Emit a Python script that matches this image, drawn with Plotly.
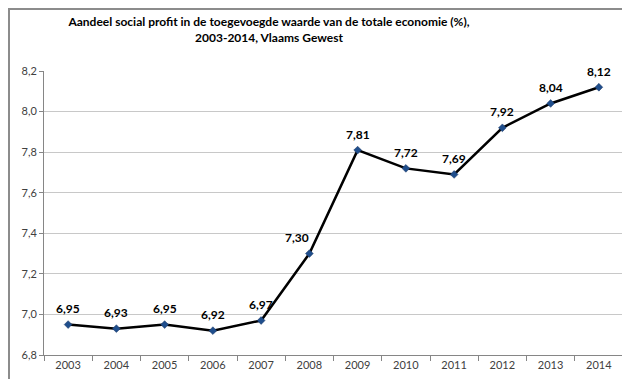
import plotly.graph_objects as go

years = ["2003", "2004", "2005", "2006", "2007", "2008", "2009", "2010", "2011", "2012", "2013", "2014"]
values = [6.95, 6.93, 6.95, 6.92, 6.97, 7.30, 7.81, 7.72, 7.69, 7.92, 8.04, 8.12]
labels = [f"{v:.2f}".replace(".", ",") for v in values]
title_text = "Aandeel social profit in de toegevoegde waarde van de totale economie (%),<br>2003-2014, Vlaams Gewest"

fig = go.Figure()
fig.add_trace(go.Scatter(
    x=years, y=values, mode="lines+markers",
    line=dict(color="#000000", width=2.5),
    marker=dict(symbol="diamond", size=6, color="#1F4E8C", line=dict(color="#1F3864", width=0.5)),
    cliponaxis=False, showlegend=False,
))

# category axis: annotations positioned by category index
annotations = []
for i, (yv, t) in enumerate(zip(values, labels)):
    annotations.append(dict(x=i, y=yv, text=t, xref="x", yref="y", showarrow=False,
                            yshift=16, xshift=(-12 if years[i] == "2008" else 0),
                            font=dict(family="Lato", size=12, color="#000000", weight="bold")))

W, H = 630, 379
L, R, T, B = 36, 15, 63, 32
pw, ph = W - L - R, H - T - B

fig.update_layout(
    width=W, height=H,
    margin=dict(l=L, r=R, t=T, b=B),
    paper_bgcolor="white", plot_bgcolor="white",
    separators=", ",
    font=dict(family="Lato", size=11, color="#404040"),
    title=dict(text=title_text, x=(261 - L) / pw, xanchor="center", xref="paper", y=0.952, yanchor="top",
               font=dict(family="Lato", size=12, color="#000000", weight="bold")),
    xaxis=dict(type="category", tickson="boundaries", ticks="outside", ticklen=5, tickcolor="#868686",
               showline=True, linecolor="#868686", linewidth=1, showgrid=False,
               tickfont=dict(size=11, color="#404040"), range=[-0.5, 11.5]),
    yaxis=dict(range=[6.8, 8.2], dtick=0.2, tickformat=".1f", ticks="outside", ticklen=4,
               tickcolor="#868686", showline=True, linecolor="#868686", linewidth=1,
               showgrid=True, gridcolor="#C8C8C8", gridwidth=1, zeroline=False,
               tickfont=dict(size=11, color="#404040")),
    annotations=annotations,
    shapes=[dict(type="rect", xref="paper", yref="paper",
                 x0=(1 - L) / pw, x1=(628 - L) / pw, y0=(H - B - 377) / ph, y1=(H - B - 1) / ph,
                 line=dict(color="#8C8C8C", width=2), fillcolor="rgba(0,0,0,0)", layer="below")],
)

fig.write_html("out.html")
